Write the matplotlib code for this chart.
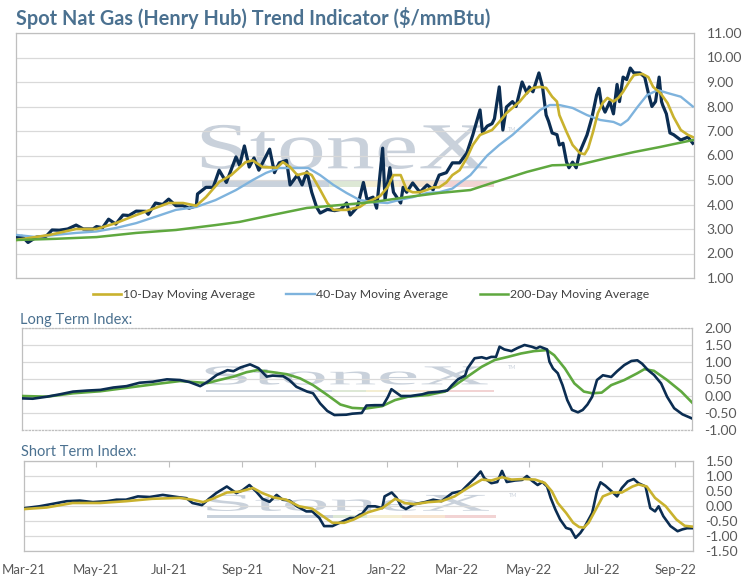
import pandas as pd
import matplotlib
matplotlib.use("Agg")
import matplotlib.pyplot as plt
import matplotlib.dates as mdates
import matplotlib.patches as patches
import matplotlib.transforms as mtransforms
from matplotlib.textpath import TextPath
from matplotlib.font_manager import FontProperties

# --- spot price ($/mmBtu) ---
spot_dates = [
    "2021-03-01", "2021-03-06", "2021-03-11", "2021-03-18", "2021-03-26", "2021-03-31",
    "2021-04-06", "2021-04-13", "2021-04-20", "2021-04-26", "2021-05-04", "2021-05-07",
    "2021-05-12", "2021-05-17", "2021-05-23", "2021-05-29", "2021-06-03", "2021-06-09",
    "2021-06-17", "2021-06-19", "2021-06-25", "2021-07-01", "2021-07-06", "2021-07-12",
    "2021-07-18", "2021-07-23", "2021-07-29", "2021-07-30", "2021-08-06", "2021-08-12",
    "2021-08-17", "2021-08-23", "2021-08-31", "2021-09-03", "2021-09-07", "2021-09-11",
    "2021-09-15", "2021-09-19", "2021-09-28", "2021-10-02", "2021-10-06", "2021-10-12",
    "2021-10-15", "2021-10-21", "2021-10-25", "2021-10-29", "2021-11-02", "2021-11-06",
    "2021-11-09", "2021-11-15", "2021-11-21", "2021-11-26", "2021-12-01", "2021-12-04",
    "2021-12-10", "2021-12-15", "2021-12-18", "2021-12-23", "2021-12-26", "2021-12-31",
    "2022-01-02", "2022-01-06", "2022-01-09", "2022-01-15", "2022-01-17", "2022-01-20",
    "2022-01-25", "2022-01-31", "2022-02-06", "2022-02-11", "2022-02-16", "2022-02-22",
    "2022-02-27", "2022-03-05", "2022-03-11", "2022-03-16", "2022-03-20", "2022-03-22",
    "2022-03-24", "2022-03-28", "2022-04-01", "2022-04-03", "2022-04-07", "2022-04-10",
    "2022-04-13", "2022-04-18", "2022-04-21", "2022-04-26", "2022-04-30", "2022-05-02",
    "2022-05-05", "2022-05-10", "2022-05-13", "2022-05-16", "2022-05-18", "2022-05-21",
    "2022-05-25", "2022-05-27", "2022-05-30", "2022-06-02", "2022-06-04", "2022-06-07",
    "2022-06-10", "2022-06-13", "2022-06-19", "2022-06-23", "2022-06-27", "2022-06-29",
    "2022-07-01", "2022-07-04", "2022-07-08", "2022-07-11", "2022-07-14", "2022-07-16",
    "2022-07-19", "2022-07-22", "2022-07-25", "2022-07-28", "2022-08-02", "2022-08-06",
    "2022-08-09", "2022-08-12", "2022-08-15", "2022-08-18", "2022-08-20", "2022-08-21",
    "2022-08-24", "2022-08-27", "2022-08-30", "2022-09-05", "2022-09-11", "2022-09-15",
]
spot_vals = [
    2.65, 2.70, 2.45, 2.67, 2.70, 2.96,
    2.95, 3.00, 3.16, 3.00, 3.00, 3.10,
    3.05, 3.40, 3.20, 3.57, 3.55, 3.73,
    3.72, 3.60, 4.06, 4.00, 4.22, 3.95,
    3.95, 3.85, 3.95, 4.43, 4.70, 4.70,
    5.40, 4.90, 5.94, 5.60, 6.39, 5.53,
    5.90, 5.40, 6.26, 5.30, 5.70, 5.80,
    4.80, 5.20, 4.80, 5.33, 4.50, 3.90,
    3.65, 3.80, 3.75, 3.80, 4.06, 3.57,
    3.90, 4.90, 4.20, 4.30, 3.85, 6.30,
    4.20, 5.50, 4.50, 4.06, 4.70, 4.50,
    4.88, 4.50, 4.80, 4.60, 5.20, 5.30,
    5.70, 5.70, 6.10, 6.84, 7.53, 7.86,
    6.95, 7.20, 7.30, 7.50, 8.80, 7.04,
    7.98, 8.20, 8.00, 9.00, 8.55, 8.80,
    8.60, 9.37, 8.80, 7.65, 7.40, 6.92,
    6.85, 6.43, 6.50, 5.73, 5.50, 5.73,
    5.50, 6.14, 6.84, 7.53, 8.47, 8.74,
    8.10, 7.77, 8.20, 7.70, 8.90, 8.20,
    9.20, 9.10, 9.57, 9.37, 9.37, 9.20,
    8.55, 8.00, 8.20, 9.20, 8.20, 8.05,
    7.70, 6.92, 6.85, 6.63, 6.75, 6.50,
]

ma10_dates = [
    "2021-03-01", "2021-03-29", "2021-04-20", "2021-05-07", "2021-05-23", "2021-06-09",
    "2021-06-25", "2021-07-06", "2021-07-18", "2021-07-29", "2021-08-06", "2021-08-17",
    "2021-08-27", "2021-09-08", "2021-09-14", "2021-09-22", "2021-10-04", "2021-10-09",
    "2021-10-15", "2021-10-21", "2021-10-29", "2021-11-02", "2021-11-09", "2021-11-15",
    "2021-11-20", "2021-12-01", "2021-12-12", "2021-12-18", "2021-12-23", "2021-12-29",
    "2022-01-04", "2022-01-09", "2022-01-15", "2022-01-20", "2022-01-25", "2022-01-31",
    "2022-02-06", "2022-02-11", "2022-02-16", "2022-02-22", "2022-02-27", "2022-03-05",
    "2022-03-11", "2022-03-16", "2022-03-22", "2022-03-28", "2022-04-01", "2022-04-07",
    "2022-04-13", "2022-04-18", "2022-04-24", "2022-04-30", "2022-05-05", "2022-05-11",
    "2022-05-16", "2022-05-21", "2022-05-25", "2022-05-27", "2022-06-02", "2022-06-07",
    "2022-06-13", "2022-06-17", "2022-06-20", "2022-06-24", "2022-06-28", "2022-07-02",
    "2022-07-06", "2022-07-11", "2022-07-15", "2022-07-19", "2022-07-24", "2022-07-28",
    "2022-08-04", "2022-08-09", "2022-08-13", "2022-08-19", "2022-08-25", "2022-08-30",
    "2022-09-05", "2022-09-11", "2022-09-15",
]
ma10_vals = [
    2.55, 2.76, 3.00, 3.00, 3.24, 3.57,
    3.86, 4.06, 4.06, 3.95, 4.30, 4.92,
    5.20, 5.73, 5.80, 5.53, 5.50, 5.73,
    5.53, 5.20, 5.30, 5.20, 4.60, 4.06,
    3.78, 3.78, 3.90, 4.10, 4.20, 4.35,
    4.70, 5.20, 5.20, 4.60, 4.50, 4.50,
    4.60, 4.70, 4.70, 4.90, 5.20, 5.40,
    5.90, 6.43, 6.84, 6.96, 7.04, 7.37,
    7.73, 7.94, 8.20, 8.55, 8.76, 8.80,
    8.76, 8.40, 8.20, 7.65, 6.96, 6.43,
    6.10, 6.05, 6.30, 6.96, 7.73, 8.14,
    8.35, 8.20, 8.35, 8.60, 9.00, 9.28,
    9.33, 9.20, 8.80, 8.55, 8.14, 7.57,
    7.04, 6.84, 6.75,
]

ma40_dates = [
    "2021-03-01", "2021-03-18", "2021-04-03", "2021-04-20", "2021-05-07", "2021-05-23",
    "2021-06-09", "2021-06-25", "2021-07-12", "2021-07-29", "2021-08-14", "2021-08-31",
    "2021-09-14", "2021-09-25", "2021-10-06", "2021-10-17", "2021-10-30", "2021-11-09",
    "2021-11-20", "2021-12-01", "2021-12-12", "2021-12-23", "2022-01-04", "2022-01-15",
    "2022-01-25", "2022-02-06", "2022-02-16", "2022-02-27", "2022-03-14", "2022-03-28",
    "2022-04-07", "2022-04-18", "2022-04-30", "2022-05-11", "2022-05-19", "2022-05-27",
    "2022-06-07", "2022-06-19", "2022-06-30", "2022-07-11", "2022-07-17", "2022-07-23",
    "2022-07-31", "2022-08-08", "2022-08-17", "2022-08-25", "2022-09-05", "2022-09-15",
]
ma40_vals = [
    2.76, 2.67, 2.76, 2.84, 2.90, 3.04,
    3.24, 3.50, 3.78, 3.90, 4.18, 4.59,
    5.00, 5.29, 5.49, 5.49, 5.49, 5.20,
    4.80, 4.47, 4.18, 4.10, 4.06, 4.20,
    4.30, 4.47, 4.50, 4.65, 5.20, 6.00,
    6.43, 6.84, 7.37, 7.86, 8.06, 8.06,
    7.94, 7.65, 7.45, 7.37, 7.24, 7.45,
    7.98, 8.47, 8.67, 8.55, 8.40, 8.00,
]

ma200_dates = [
    "2021-03-01", "2021-04-03", "2021-05-07", "2021-06-09", "2021-07-12", "2021-08-14",
    "2021-09-03", "2021-09-30", "2021-10-29", "2021-11-26", "2021-12-23", "2022-01-20",
    "2022-02-16", "2022-03-14", "2022-04-01", "2022-04-30", "2022-05-21", "2022-06-13",
    "2022-07-06", "2022-07-28", "2022-08-19", "2022-09-15",
]
ma200_vals = [
    2.55, 2.60, 2.67, 2.84, 2.96, 3.16,
    3.29, 3.57, 3.86, 3.98, 4.10, 4.30,
    4.47, 4.59, 4.88, 5.33, 5.60, 5.63,
    5.90, 6.14, 6.35, 6.63,
]

# --- long term index ---
lt_idx_dates = [
    "2021-03-01", "2021-03-10", "2021-03-22", "2021-04-02", "2021-04-13", "2021-04-25",
    "2021-05-06", "2021-05-17", "2021-05-28", "2021-06-08", "2021-06-19", "2021-07-01",
    "2021-07-12", "2021-07-20", "2021-07-29", "2021-08-04", "2021-08-12", "2021-08-21",
    "2021-08-26", "2021-09-01", "2021-09-09", "2021-09-16", "2021-09-23", "2021-09-28",
    "2021-10-07", "2021-10-12", "2021-10-18", "2021-10-27", "2021-11-01", "2021-11-07",
    "2021-11-13", "2021-11-19", "2021-11-29", "2021-12-04", "2021-12-12", "2021-12-16",
    "2021-12-23", "2021-12-30", "2022-01-03", "2022-01-06", "2022-01-10", "2022-01-14",
    "2022-01-22", "2022-02-01", "2022-02-06", "2022-02-14", "2022-02-22", "2022-02-26",
    "2022-03-03", "2022-03-09", "2022-03-11", "2022-03-17", "2022-03-23", "2022-03-27",
    "2022-03-31", "2022-04-04", "2022-04-07", "2022-04-11", "2022-04-17", "2022-04-22",
    "2022-04-28", "2022-05-04", "2022-05-08", "2022-05-11", "2022-05-17", "2022-05-19",
    "2022-05-22", "2022-05-26", "2022-05-30", "2022-06-03", "2022-06-07", "2022-06-12",
    "2022-06-16", "2022-06-20", "2022-06-24", "2022-06-28", "2022-07-03", "2022-07-10",
    "2022-07-15", "2022-07-21", "2022-07-27", "2022-08-01", "2022-08-05", "2022-08-10",
    "2022-08-15", "2022-08-21", "2022-08-26", "2022-09-01", "2022-09-08", "2022-09-16",
]
lt_idx_vals = [
    -0.07, -0.08, -0.02, 0.05, 0.13, 0.16,
    0.18, 0.25, 0.29, 0.39, 0.42, 0.49,
    0.47, 0.41, 0.29, 0.41, 0.62, 0.76,
    0.73, 0.84, 0.93, 0.82, 0.57, 0.60,
    0.58, 0.47, 0.27, 0.13, 0.08, -0.22,
    -0.44, -0.56, -0.55, -0.52, -0.50, -0.28,
    -0.27, -0.27, -0.03, 0.20, 0.10, 0.00,
    0.00, 0.05, 0.10, 0.12, 0.16, 0.32,
    0.49, 0.60, 0.81, 1.11, 1.14, 1.10,
    1.15, 1.15, 1.45, 1.37, 1.32, 1.41,
    1.50, 1.45, 1.40, 1.45, 1.37, 1.01,
    0.81, 0.67, 0.32, -0.12, -0.41, -0.48,
    -0.41, -0.25, -0.02, 0.47, 0.61, 0.56,
    0.73, 0.91, 1.03, 1.05, 0.95, 0.76,
    0.62, 0.37, -0.02, -0.36, -0.54, -0.66,
]

lt_sig_dates = [
    "2021-03-01", "2021-03-22", "2021-04-13", "2021-05-06", "2021-05-28", "2021-06-19",
    "2021-07-12", "2021-08-04", "2021-08-14", "2021-08-26", "2021-09-06", "2021-09-15",
    "2021-09-28", "2021-10-10", "2021-10-21", "2021-11-01", "2021-11-13", "2021-11-24",
    "2021-12-04", "2021-12-15", "2021-12-29", "2022-01-09", "2022-01-20", "2022-02-06",
    "2022-02-20", "2022-02-28", "2022-03-11", "2022-03-23", "2022-04-03", "2022-04-14",
    "2022-04-25", "2022-05-06", "2022-05-17", "2022-05-23", "2022-06-01", "2022-06-09",
    "2022-06-17", "2022-06-24", "2022-07-02", "2022-07-10", "2022-07-21", "2022-08-01",
    "2022-08-07", "2022-08-15", "2022-08-26", "2022-09-07", "2022-09-16",
]
lt_sig_vals = [
    0.00, -0.02, 0.08, 0.14, 0.24, 0.34,
    0.44, 0.38, 0.47, 0.57, 0.70, 0.76,
    0.70, 0.64, 0.52, 0.32, 0.03, -0.25,
    -0.35, -0.37, -0.30, -0.12, -0.02, 0.03,
    0.13, 0.30, 0.57, 0.86, 1.06, 1.15,
    1.25, 1.32, 1.35, 1.20, 0.81, 0.37,
    0.13, 0.08, 0.10, 0.32, 0.47, 0.67,
    0.79, 0.74, 0.47, 0.13, -0.19,
]

# --- short term index ---
st_idx_dates = [
    "2021-03-02", "2021-03-14", "2021-03-25", "2021-04-06", "2021-04-17", "2021-04-28",
    "2021-05-10", "2021-05-18", "2021-05-26", "2021-06-05", "2021-06-15", "2021-06-26",
    "2021-07-08", "2021-07-16", "2021-07-21", "2021-07-29", "2021-08-04", "2021-08-10",
    "2021-08-19", "2021-08-27", "2021-09-01", "2021-09-07", "2021-09-13", "2021-09-18",
    "2021-09-24", "2021-09-30", "2021-10-05", "2021-10-11", "2021-10-17", "2021-10-25",
    "2021-10-30", "2021-11-05", "2021-11-09", "2021-11-16", "2021-11-22", "2021-12-01",
    "2021-12-05", "2021-12-09", "2021-12-11", "2021-12-16", "2021-12-22", "2021-12-28",
    "2021-12-30", "2022-01-05", "2022-01-09", "2022-01-13", "2022-01-17", "2022-01-24",
    "2022-02-02", "2022-02-09", "2022-02-16", "2022-02-25", "2022-03-05", "2022-03-10",
    "2022-03-16", "2022-03-21", "2022-03-24", "2022-03-30", "2022-04-04", "2022-04-08",
    "2022-04-12", "2022-04-19", "2022-04-25", "2022-04-29", "2022-05-03", "2022-05-08",
    "2022-05-12", "2022-05-16", "2022-05-19", "2022-05-23", "2022-05-27", "2022-06-01",
    "2022-06-05", "2022-06-09", "2022-06-13", "2022-06-17", "2022-06-23", "2022-06-27",
    "2022-06-30", "2022-07-04", "2022-07-08", "2022-07-14", "2022-07-18", "2022-07-23",
    "2022-07-28", "2022-08-01", "2022-08-07", "2022-08-11", "2022-08-15", "2022-08-18",
    "2022-08-22", "2022-08-28", "2022-09-03", "2022-09-07", "2022-09-11", "2022-09-15",
]
st_idx_vals = [
    -0.07, -0.01, 0.07, 0.16, 0.18, 0.13,
    0.16, 0.21, 0.21, 0.32, 0.30, 0.37,
    0.30, 0.26, 0.10, 0.03, 0.24, 0.43,
    0.65, 0.43, 0.52, 0.70, 0.47, 0.24,
    0.14, 0.37, 0.21, 0.18, -0.01, -0.18,
    -0.18, -0.40, -0.67, -0.67, -0.56, -0.40,
    -0.40, -0.29, -0.26, -0.01, -0.01, -0.07,
    0.32, 0.45, 0.28, -0.01, -0.10, 0.06,
    0.13, 0.21, 0.16, 0.43, 0.50, 0.70,
    0.93, 1.15, 0.93, 0.76, 0.80, 1.17,
    0.80, 0.85, 0.87, 1.00, 0.85, 0.70,
    0.80, 0.65, 0.27, -0.12, -0.45, -0.73,
    -0.78, -1.06, -0.90, -0.67, -0.23, 0.49,
    0.79, 0.68, 0.54, 0.32, 0.60, 0.82,
    0.90, 0.76, 0.65, -0.07, -0.18, -0.01,
    -0.34, -0.67, -0.84, -0.78, -0.74, -0.74,
]

st_sig_dates = [
    "2021-03-02", "2021-03-20", "2021-04-11", "2021-05-04", "2021-05-26", "2021-06-17",
    "2021-07-10", "2021-07-21", "2021-07-30", "2021-08-07", "2021-08-19", "2021-08-30",
    "2021-09-10", "2021-09-18", "2021-09-27", "2021-10-08", "2021-10-19", "2021-10-30",
    "2021-11-08", "2021-11-16", "2021-11-26", "2021-12-04", "2021-12-16", "2021-12-28",
    "2022-01-08", "2022-01-16", "2022-01-24", "2022-02-05", "2022-02-16", "2022-02-27",
    "2022-03-10", "2022-03-22", "2022-03-30", "2022-04-08", "2022-04-16", "2022-04-27",
    "2022-05-06", "2022-05-14", "2022-05-20", "2022-05-25", "2022-06-01", "2022-06-07",
    "2022-06-12", "2022-06-16", "2022-06-20", "2022-06-26", "2022-07-02", "2022-07-10",
    "2022-07-18", "2022-07-27", "2022-08-01", "2022-08-08", "2022-08-15", "2022-08-24",
    "2022-09-02", "2022-09-09", "2022-09-16",
]
st_sig_vals = [
    -0.10, -0.05, 0.10, 0.10, 0.16, 0.24,
    0.27, 0.21, 0.13, 0.24, 0.45, 0.48,
    0.60, 0.43, 0.29, 0.21, -0.01, -0.09,
    -0.34, -0.56, -0.56, -0.45, -0.21, -0.07,
    0.24, 0.10, 0.06, 0.13, 0.16, 0.32,
    0.60, 0.88, 0.85, 0.96, 0.88, 0.90,
    0.88, 0.77, 0.49, 0.10, -0.23, -0.56,
    -0.70, -0.72, -0.56, -0.12, 0.32, 0.45,
    0.45, 0.65, 0.72, 0.65, 0.27, -0.01,
    -0.45, -0.66, -0.69,
]

x_start, x_end = pd.Timestamp("2021-03-01"), pd.Timestamp("2022-09-16")

NAVY = "#0b2d52"
GOLD = "#c9b22e"
LBLUE = "#7eb3dd"
GREEN = "#5fa83f"
TITLE_C = "#4b7190"
TICK_C = "#595959"
GRID_C = "#d9d9d9"
EDGE_C = "#bfbfbf"

plt.rcParams["font.family"] = ["Lato", "DejaVu Sans"]


def d(lst):
    return pd.to_datetime(lst)


# водяной знак StoneX
def watermark(ax):
    tp = TextPath((0, 0), "StoneX", size=1, prop=FontProperties(family="Liberation Serif"))
    bb = tp.get_extents()
    x0, x1, y0, y1 = 0.274, 0.695, 0.445, 0.625
    tr = (mtransforms.Affine2D().translate(-bb.x0, -bb.y0)
          .scale((x1 - x0) / bb.width, (y1 - y0) / bb.height)
          .translate(x0, y0) + ax.transAxes)
    ax.add_patch(patches.PathPatch(tp, transform=tr, facecolor="#c9d1db", lw=0, zorder=0.5))
    ax.text(0.725, 0.6, "TM", transform=ax.transAxes, fontsize=4, color="#c9d1db", zorder=0.5)
    segs = [(0.274, 0.462, "#c9d2dc"), (0.462, 0.513, "#dde8d5"),
            (0.513, 0.565, "#f4eed2"), (0.565, 0.63, "#f6e4d0"), (0.63, 0.705, "#f2d3d3")]
    for a, b, c in segs:
        ax.add_patch(patches.Rectangle((a, 0.37), b - a, 0.025, transform=ax.transAxes,
                                       facecolor=c, lw=0, zorder=0.5))


def style_axes(ax, lo, hi, step, fmt="%.2f"):
    ax.set_xlim(x_start, x_end)
    ax.set_ylim(lo, hi)
    ticks = [lo + i * step for i in range(int(round((hi - lo) / step)) + 1)]
    ax.set_yticks(ticks)
    ax.set_yticklabels([fmt % t for t in ticks])
    ax.yaxis.tick_right()
    ax.tick_params(axis="y", length=0, pad=9, labelsize=10, labelcolor=TICK_C)
    ax.grid(axis="y", color=GRID_C, lw=0.9)
    ax.set_axisbelow(True)
    for s in ax.spines.values():
        s.set_color(EDGE_C)
        s.set_linewidth(0.9)
    watermark(ax)


fig = plt.figure(figsize=(7.55, 5.78), dpi=100)

# --- верхний график: цена и скользящие ---
ax1 = fig.add_axes([16 / 755, 1 - 278 / 578, 678 / 755, 245 / 578])
style_axes(ax1, 1.0, 11.0, 1.0)
ax1.set_xticks([])
ax1.plot(d(spot_dates), spot_vals, color=NAVY, lw=2.3, zorder=3)
ax1.plot(d(ma40_dates), ma40_vals, color=LBLUE, lw=1.7, zorder=4, label="40-Day Moving Average")
ax1.plot(d(ma10_dates), ma10_vals, color=GOLD, lw=1.9, zorder=5, label="10-Day Moving Average")
ax1.plot(d(ma200_dates), ma200_vals, color=GREEN, lw=1.8, zorder=6, label="200-Day Moving Average")
h, l = ax1.get_legend_handles_labels()
order = [1, 0, 2]
fig.legend([h[i] for i in order], [l[i] for i in order], loc="center",
           bbox_to_anchor=(371 / 755, 1 - 295 / 578), ncol=3, frameon=False,
           fontsize=8.8, handlelength=2.3, handletextpad=0.15, columnspacing=2.6,
           labelcolor="#404040")
fig.text(16 / 755, 1 - 18 / 578, "Spot Nat Gas (Henry Hub) Trend Indicator ($/mmBtu)",
         fontsize=14.3, fontweight="bold", color=TITLE_C, va="center", ha="left")

# --- Long Term Index ---
ax2 = fig.add_axes([22 / 755, 1 - 430 / 578, 670 / 755, 102 / 578])
style_axes(ax2, -1.0, 2.0, 0.5)
ax2.set_xticks([])
ax2.spines["top"].set_linestyle(":")
ax2.spines["bottom"].set_linestyle(":")
ax2.plot(d(lt_sig_dates), lt_sig_vals, color=GREEN, lw=1.9, zorder=3)
ax2.plot(d(lt_idx_dates), lt_idx_vals, color=NAVY, lw=1.9, zorder=4)
fig.text(20 / 755, 1 - 320 / 578, "Long Term Index:", fontsize=10.5, color=TITLE_C,
         va="center", ha="left")

# --- Short Term Index ---
ax3 = fig.add_axes([24 / 755, 1 - 551 / 578, 669 / 755, 90 / 578])
style_axes(ax3, -1.5, 1.5, 0.5)
ax3.plot(d(st_idx_dates), st_idx_vals, color=NAVY, lw=1.9, zorder=3)
ax3.plot(d(st_sig_dates), st_sig_vals, color=GOLD, lw=1.9, zorder=4)
ax3.xaxis.set_major_locator(mdates.MonthLocator(bymonth=[1, 3, 5, 7, 9, 11]))
ax3.xaxis.set_major_formatter(mdates.DateFormatter("%b-%y"))
ax3.tick_params(axis="x", top=True, bottom=False, labelbottom=True, direction="in",
                length=4, color=EDGE_C, labelsize=9.5, labelcolor=TICK_C, pad=9)
fig.text(21 / 755, 1 - 452 / 578, "Short Term Index:", fontsize=10.5, color=TITLE_C,
         va="center", ha="left")

fig.savefig("out.png", dpi=100)
